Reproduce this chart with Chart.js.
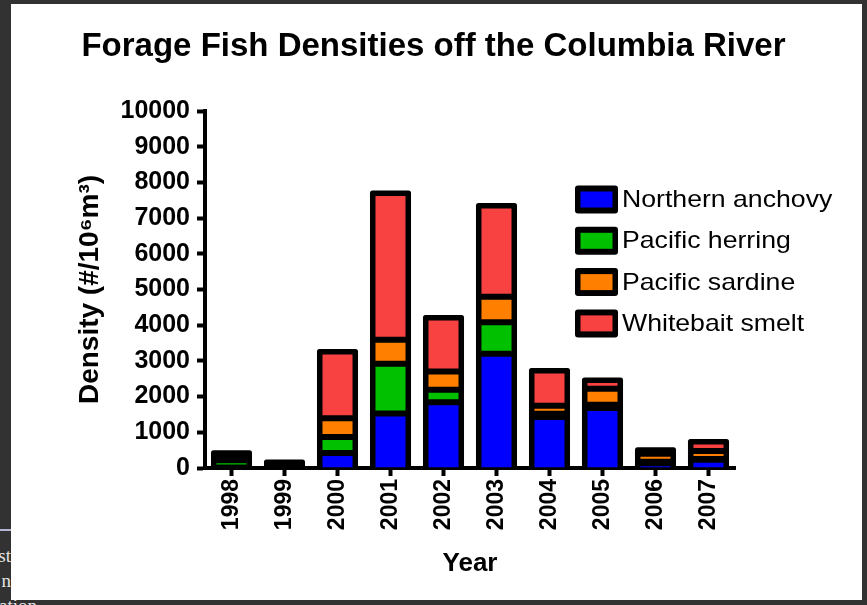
<!DOCTYPE html>
<html>
<head>
<meta charset="utf-8">
<script src="https://cdn.jsdelivr.net/npm/chart.js@4.4.1/dist/chart.umd.min.js"></script>
<style>
  html, body { margin: 0; padding: 0; }
  body { width: 867px; height: 605px; background: #323232; position: relative; overflow: hidden; }
  .behind { position: absolute; color: #e4e4e4; font: 19px 'Liberation Serif', 'DejaVu Serif', serif; line-height: 25px; white-space: nowrap; }
  #rule { position: absolute; left: 0; top: 529px; width: 11px; height: 2px; background: #b3b7d3; }
  #sheet { position: absolute; left: 11px; top: 4px; width: 851px; height: 596px; background: #ffffff; }
  #chart { position: absolute; left: 0; top: 0; }
</style>
</head>
<body>
<div id="rule"></div>
<div class="behind" style="right:856px; top:543px;">st</div>
<div class="behind" style="right:856px; top:568px;">n</div>
<div class="behind" style="left:-1px; top:593px;">ation</div>
<div id="sheet"></div>
<canvas id="chart" width="867" height="605"></canvas>
<script>
// Survey years and densities (#/10^6 m^3) for each species
const years = ['1998', '1999', '2000', '2001', '2002', '2003', '2004', '2005', '2006', '2007'];
const northernAnchovy = [0, 0, 420, 1530, 1840, 3200, 1430, 1680, 80, 230];
const pacificHerring  = [220, 60, 450, 1390, 350, 885, 90, 90, 96, 20];
const pacificSardine  = [60, 30, 525, 670, 515, 715, 225, 450, 224, 225];
const whitebaitSmelt  = [150, 80, 1865, 4110, 1510, 2555, 985, 245, 110, 265];
const seriesNames = ['Northern anchovy', 'Pacific herring', 'Pacific sardine', 'Whitebait smelt'];
const yTickLabels = ['0', '1000', '2000', '3000', '4000', '5000', '6000', '7000', '8000', '9000', '10000'];

const seriesColors = ['#0000ff', '#00c000', '#ff8000', '#f84242'];
const FONT = "'Liberation Sans', Arial, Helvetica, sans-serif";

// Solid black block behind every stack: gives the heavy outer frame
// and fills the seams between segments
const stackBacking = {
  id: 'stackBacking',
  beforeDatasetsDraw(chart) {
    const ctx = chart.ctx;
    const metas = chart.getSortedVisibleDatasetMetas();
    const pad = 2.5;
    ctx.save();
    ctx.fillStyle = '#000';
    for (let i = 0; i < chart.data.labels.length; i++) {
      let top = Infinity, bottom = -Infinity, x = 0, w = 0;
      metas.forEach(m => {
        const p = m.data[i].getProps(['x', 'y', 'base', 'width'], true);
        top = Math.min(top, p.y, p.base);
        bottom = Math.max(bottom, p.y, p.base);
        x = p.x; w = p.width;
      });
      ctx.beginPath();
      ctx.roundRect(x - w / 2 - pad, top - pad, w + 2 * pad, bottom - top + pad, [2.5, 2.5, 0, 0]);
      ctx.fill();
    }
    ctx.restore();
  }
};

// Legend block drawn inside the plot, to the right of the tall bars
const sideLegend = {
  id: 'sideLegend',
  afterDraw(chart) {
    const ctx = chart.ctx;
    const x0 = 575, y0 = 199.5, step = 41.3;
    ctx.save();
    chart.data.datasets.forEach((ds, i) => {
      const cy = y0 + i * step;
      ctx.fillStyle = '#000';
      ctx.beginPath();
      ctx.roundRect(x0, cy - 14, 43, 28, 3);
      ctx.fill();
      ctx.fillStyle = ds.backgroundColor;
      ctx.fillRect(x0 + 5.5, cy - 8, 32, 16);
      ctx.save();
      ctx.translate(622, cy + 1);
      ctx.scale(1.11, 1);
      ctx.fillStyle = '#000';
      ctx.font = '24px ' + FONT;
      ctx.textAlign = 'left';
      ctx.textBaseline = 'middle';
      ctx.fillText(ds.label, 0, 0);
      ctx.restore();
    });
    ctx.restore();
  }
};

const seriesData = [northernAnchovy, pacificHerring, pacificSardine, whitebaitSmelt];

new Chart(document.getElementById('chart'), {
  type: 'bar',
  data: {
    labels: years,
    datasets: seriesData.map((d, i) => ({
      label: seriesNames[i],
      data: d,
      backgroundColor: seriesColors[i],
      borderColor: '#000',
      borderWidth: 3,
      borderSkipped: i === 0 ? 'start' : false,
      inflateAmount: 0,
      barPercentage: 0.68,
      categoryPercentage: 1
    }))
  },
  options: {
    responsive: false,
    animation: false,
    devicePixelRatio: 1,
    layout: { padding: 0 },
    plugins: {
      legend: { display: false },
      tooltip: { enabled: false },
      title: {
        display: true,
        text: 'Forage Fish Densities off the Columbia River',
        color: '#000',
        font: { family: FONT, size: 33, weight: 'bold' },
        padding: { top: 27, bottom: 44.4 }
      }
    },
    scales: {
      x: {
        stacked: true,
        z: 1,
        grid: { display: true, drawOnChartArea: false, drawTicks: true, tickLength: 8, tickWidth: 4, tickColor: '#000', offset: false },
        border: { display: true, width: 4, color: '#000' },
        ticks: { color: '#000', font: { family: FONT, size: 23, weight: 'bold' }, maxRotation: 90, minRotation: 90, padding: 3 },
        title: { display: true, text: 'Year', color: '#000', font: { family: FONT, size: 26, weight: 'bold' }, padding: { top: 0, bottom: 26 } },
        afterFit(s) { s.height = 137; }
      },
      y: {
        stacked: true,
        z: 1,
        min: 0,
        max: 10000,
        grid: { display: true, drawOnChartArea: false, drawTicks: true, tickLength: 8, tickWidth: 4, tickColor: '#000' },
        border: { display: true, width: 4, color: '#000' },
        ticks: { stepSize: 1000, color: '#000', font: { family: FONT, size: 25, weight: 'bold' }, padding: 7,
                 callback: (v, i) => yTickLabels[i] },
        title: { display: true, text: 'Density (#/10\u2076m\u00b3)', color: '#000', font: { family: FONT, size: 28, weight: 'bold' }, padding: { top: 73, bottom: 0 } },
        afterFit(s) { s.width = 205; }
      },
      spacer: {
        type: 'linear',
        position: 'right',
        display: true,
        grid: { display: false },
        border: { display: false },
        ticks: { display: false },
        afterFit(s) { s.width = 132; }
      }
    }
  },
  plugins: [stackBacking, sideLegend]
});
</script>
</body>
</html>
